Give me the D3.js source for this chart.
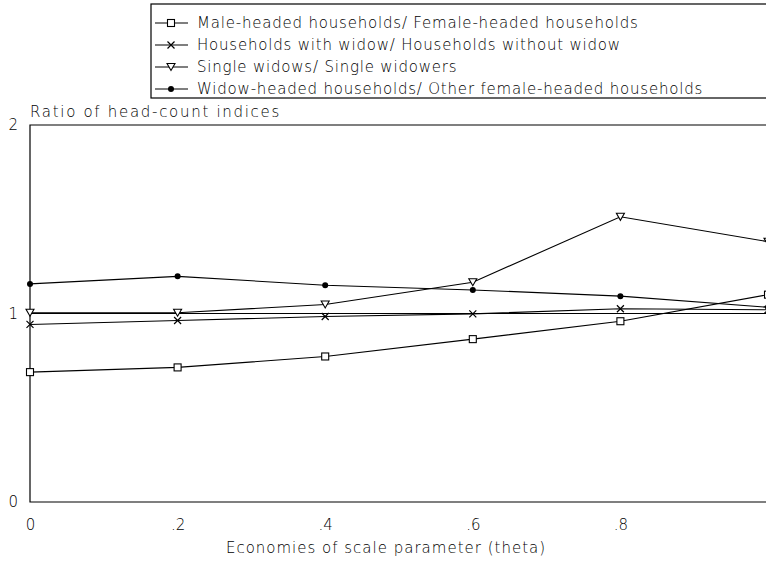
<!DOCTYPE html>
<html>
<head>
<meta charset="utf-8">
<script src="https://cdn.jsdelivr.net/npm/d3@7"></script>
<style>
  body { margin: 0; background: #fff; }
  svg { display: block; }
  text { font-family: "DejaVu Sans", sans-serif; font-size: 15px; font-weight: 200; fill: #000; }
</style>
</head>
<body>
<script>
// values
const theta = [0, 0.2, 0.4, 0.6, 0.8, 1]
const maleFemale = [0.689, 0.714, 0.772, 0.864, 0.959, 1.10]
const widowNoWidow = [0.942, 0.963, 0.984, 0.998, 1.025, 1.02]
const singleWidows = [1.004, 1.004, 1.048, 1.166, 1.513, 1.381]
const widowHeaded = [1.157, 1.197, 1.15, 1.125, 1.092, 1.033]
const seriesNames = [
    "Male-headed households/ Female-headed households",
    "Households with widow/ Households without widow",
    "Single widows/ Single widowers",
    "Widow-headed households/ Other female-headed households"
]
const markerKinds = ["square", "cross", "triangle", "dot"]
const xTicks = [0, 0.2, 0.4, 0.6, 0.8]
const yTicks = [0, 1, 2]

const W = 766, H = 561
const svg = d3.select("body").append("svg")
    .attr("width", W)
    .attr("height", H)

svg.append("rect").attr("width", W).attr("height", H).attr("fill", "#fff")

const x = d3.scaleLinear().domain([0, 1]).range([30, 768])
const y = d3.scaleLinear().domain([0, 2]).range([502, 125])

// frame
svg.append("path")
    .attr("d", `M${W + 2},${y(2)}H${x(0)}V${y(0)}H${W + 2}`)
    .attr("fill", "none")
    .attr("stroke", "#000")
    .attr("stroke-width", 1.2)

// reference line at 1
svg.append("line")
    .attr("x1", x(0)).attr("x2", W + 2)
    .attr("y1", y(1)).attr("y2", y(1))
    .attr("stroke", "#000")
    .attr("stroke-width", 1.1)

// axes (labels only, no tick marks)
const yAxis = svg.append("g")
    .attr("transform", `translate(${x(0)},0)`)
    .call(d3.axisLeft(y).tickValues(yTicks).tickSize(0).tickPadding(12).tickFormat(d3.format("d")))
yAxis.select(".domain").remove()
yAxis.selectAll("text").attr("font-size", null).attr("font-family", null)

const xAxis = svg.append("g")
    .attr("transform", `translate(0,${y(0)})`)
    .call(d3.axisBottom(x).tickValues(xTicks).tickSize(0).tickPadding(17)
        .tickFormat(d => d === 0 ? "0" : d3.format(".1f")(d).replace(/^0/, "")))
xAxis.select(".domain").remove()
xAxis.selectAll("text").attr("font-size", null).attr("font-family", null)
yAxis.attr("font-size", null).attr("font-family", null)
xAxis.attr("font-size", null).attr("font-family", null)

// titles
svg.append("text")
    .attr("x", 30).attr("y", 117)
    .style("letter-spacing", "1.7px")
    .text("Ratio of head-count indices")

svg.append("text")
    .attr("x", 386).attr("y", 553)
    .attr("text-anchor", "middle")
    .style("letter-spacing", "1px")
    .text("Economies of scale parameter (theta)")

// markers
function drawMarker(g, kind, cx, cy) {
    if (kind === "square") {
        g.append("rect").attr("x", cx - 3.5).attr("y", cy - 3.5)
            .attr("width", 7).attr("height", 7)
            .attr("fill", "#fff").attr("stroke", "#000").attr("stroke-width", 1.1)
    } else if (kind === "cross") {
        g.append("path")
            .attr("d", `M${cx - 3.5},${cy - 3.5}L${cx + 3.5},${cy + 3.5}M${cx - 3.5},${cy + 3.5}L${cx + 3.5},${cy - 3.5}`)
            .attr("stroke", "#000").attr("stroke-width", 1.2)
    } else if (kind === "triangle") {
        g.append("path")
            .attr("d", `M${cx - 4},${cy - 3.5}L${cx + 4},${cy - 3.5}L${cx},${cy + 3.5}Z`)
            .attr("fill", "#fff").attr("stroke", "#000").attr("stroke-width", 1.1)
    } else {
        g.append("circle").attr("cx", cx).attr("cy", cy).attr("r", 3)
            .attr("fill", "#000")
    }
}

const allSeries = [maleFemale, widowNoWidow, singleWidows, widowHeaded]
const line = d3.line().x(d => x(d[0])).y(d => y(d[1]))

allSeries.forEach((vals, i) => {
    const pts = theta.map((t, j) => [t, vals[j]])
    svg.append("path")
        .datum(pts)
        .attr("d", line)
        .attr("fill", "none")
        .attr("stroke", "#000")
        .attr("stroke-width", 1.1)
    const g = svg.append("g")
    pts.forEach(p => drawMarker(g, markerKinds[i], x(p[0]), y(p[1])))
})

// legend
const legend = svg.append("g")
legend.append("rect")
    .attr("x", 151).attr("y", 4)
    .attr("width", W).attr("height", 94)
    .attr("fill", "#fff").attr("stroke", "#000").attr("stroke-width", 1.2)

seriesNames.forEach((name, i) => {
    const ly = 23 + i * 22
    legend.append("line")
        .attr("x1", 155).attr("x2", 188)
        .attr("y1", ly).attr("y2", ly)
        .attr("stroke", "#000").attr("stroke-width", 1.1)
    drawMarker(legend, markerKinds[i], 171, ly)
    legend.append("text")
        .attr("x", 197).attr("y", ly + 5)
        .style("letter-spacing", "0.8px")
        .text(name)
})
</script>
</body>
</html>
